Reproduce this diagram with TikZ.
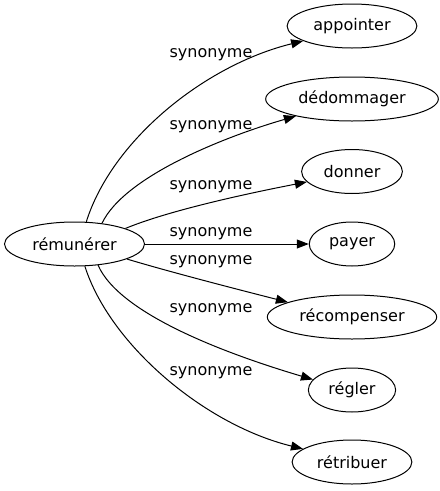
\documentclass[tikz,border=0pt]{standalone}
\usepackage{fontspec}
\setmainfont{DejaVu Sans}
\usetikzlibrary{shapes.geometric,arrows.meta}

\begin{document}
\begin{tikzpicture}[x=1pt,y=-1pt,
    mot/.style={draw,ellipse,line width=1pt,minimum height=44pt,inner xsep=7.3pt,inner ysep=2pt,font=\fontsize{16}{19}\selectfont},
    syn/.style={line width=1pt,-{Triangle[length=12pt,width=9pt]}},
    lbl/.style={font=\fontsize{16}{19}\selectfont,inner sep=0pt}]
        \useasboundingbox (0,0) rectangle (440,491);
        % words
        \node[mot] (remunerer) at (74.5,244) {rémunérer};
        \node[mot] (appointer) at (352,26) {appointer};
        \node[mot] (dedommager) at (352,99) {dédommager};
        \node[mot] (donner) at (352,171.5) {donner};
        \node[mot] (payer) at (352,244) {payer};
        \node[mot] (recompenser) at (352,317) {récompenser};
        \node[mot] (regler) at (352,390) {régler};
        \node[mot] (retribuer) at (352,462) {rétribuer};
        % edges
        \draw[syn] (remunerer.62) .. controls (112,140) and (205,65) .. (appointer.197);
        \draw[syn] (remunerer.37) .. controls (125,175) and (230,135) .. (dedommager.197);
        \draw[syn] (remunerer.17) .. controls (170,210) and (250,193) .. (donner.193);
        \draw[syn] (remunerer.0) -- (payer.180);
        \draw[syn] (remunerer.-16) .. controls (170,272) and (240,290) .. (recompenser.167);
        \draw[syn] (remunerer.-42) .. controls (120,315) and (230,355) .. (regler.165);
        \draw[syn] (remunerer.-65) .. controls (110,345) and (205,425) .. (retribuer.165);
        % labels
        \node[lbl] (l1) at (211,55) {synonyme};
        \node[lbl] (l2) at (211,127) {synonyme};
        \node[lbl] (l3) at (211,187) {synonyme};
        \node[lbl] (l4) at (211,234) {synonyme};
        \node[lbl] (l5) at (211,262) {synonyme};
        \node[lbl] (l6) at (211,310) {synonyme};
        \node[lbl] (l7) at (211,373) {synonyme};
\end{tikzpicture}
\end{document}
